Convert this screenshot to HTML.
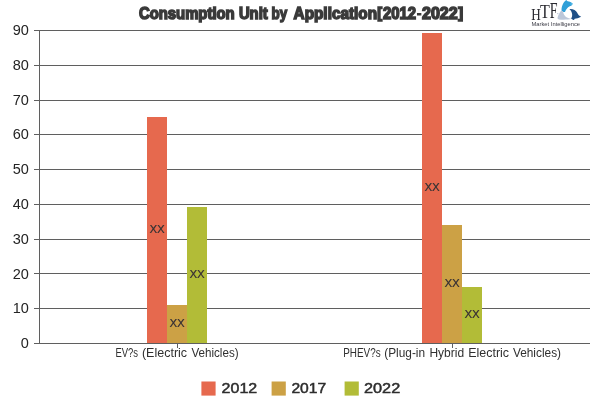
<!DOCTYPE html>
<html><head><meta charset="utf-8">
<style>
html,body{margin:0;padding:0;background:#fff;}
body{width:600px;height:400px;overflow:hidden;position:relative;font-family:"Liberation Sans",sans-serif;}
svg{position:absolute;left:0;top:0;display:block;}
.ax{font-family:"Liberation Sans",sans-serif;font-size:14.5px;fill:#242424;}
.cat{font-family:"Liberation Sans",sans-serif;font-size:12px;fill:#303030;}
.xx{font-family:"DejaVu Sans","Liberation Sans",sans-serif;font-size:14px;letter-spacing:-0.9px;fill:#3d3535;}
.lg{font-family:"Liberation Sans",sans-serif;font-size:14.6px;font-weight:normal;fill:#2e2e2e;stroke:#2e2e2e;stroke-width:0.5px;}
.ttl{font-family:"Liberation Sans",sans-serif;font-size:16px;font-weight:bold;fill:#3a3a3a;stroke:#3a3a3a;stroke-width:1.5px;stroke-linejoin:miter;}
</style></head>
<body>
<svg width="600" height="400" viewBox="0 0 600 400">
<rect width="600" height="400" fill="#fff"/>
<!-- gridlines -->
<g fill="#5f5f5f" shape-rendering="crispEdges">
<rect x="34" y="30" width="556" height="1"/>
<rect x="34" y="65" width="556" height="1"/>
<rect x="34" y="100" width="556" height="1"/>
<rect x="34" y="134" width="556" height="1"/>
<rect x="34" y="169" width="556" height="1"/>
<rect x="34" y="204" width="556" height="1"/>
<rect x="34" y="239" width="556" height="1"/>
<rect x="34" y="273" width="556" height="1"/>
<rect x="34" y="308" width="556" height="1"/>
<rect x="34" y="343" width="556" height="1"/>
<rect x="39" y="30" width="1" height="314"/>
<rect x="177" y="343" width="1" height="5"/>
<rect x="452" y="343" width="1" height="5"/>
</g>
<!-- bars -->
<g shape-rendering="crispEdges">
<rect x="147" y="117" width="20" height="226" fill="#e6694e"/>
<rect x="167" y="305" width="20" height="38" fill="#cca145"/>
<rect x="187" y="207" width="20" height="136" fill="#b2bc37"/>
<rect x="422" y="33" width="20" height="310" fill="#e6694e"/>
<rect x="442" y="225" width="20" height="118" fill="#cca145"/>
<rect x="462" y="287" width="20" height="56" fill="#b2bc37"/>
</g>
<!-- bar labels -->
<g class="xx" text-anchor="middle">
<text x="156.7" y="232.7">xx</text>
<text x="176.7" y="326.6">xx</text>
<text x="196.7" y="277.9">xx</text>
<text x="431.7" y="191.0">xx</text>
<text x="451.7" y="286.6">xx</text>
<text x="471.7" y="317.9">xx</text>
</g>
<!-- y axis labels -->
<g class="ax" text-anchor="end">
<text x="28.8" y="35.1">90</text>
<text x="28.8" y="69.9">80</text>
<text x="28.8" y="104.7">70</text>
<text x="28.8" y="139.4">60</text>
<text x="28.8" y="174.2">50</text>
<text x="28.8" y="209.0">40</text>
<text x="28.8" y="243.8">30</text>
<text x="28.8" y="278.5">20</text>
<text x="28.8" y="313.3">10</text>
<text x="28.8" y="348.1">0</text>
</g>
<!-- category labels -->
<text class="cat" y="356.9"><tspan x="115.4" textLength="22.7" lengthAdjust="spacingAndGlyphs">EV?s</tspan> <tspan x="141.9" textLength="45.2" lengthAdjust="spacingAndGlyphs">(Electric</tspan> <tspan x="191.4" textLength="47.2" lengthAdjust="spacingAndGlyphs">Vehicles)</tspan></text>
<text class="cat" y="356.9"><tspan x="343.2" textLength="37.4" lengthAdjust="spacingAndGlyphs">PHEV?s</tspan> <tspan x="384.2" textLength="40.9" lengthAdjust="spacingAndGlyphs">(Plug-in</tspan> <tspan x="429.4" textLength="34.7" lengthAdjust="spacingAndGlyphs">Hybrid</tspan> <tspan x="468.2" textLength="40.9" lengthAdjust="spacingAndGlyphs">Electric</tspan> <tspan x="512.9" textLength="48.2" lengthAdjust="spacingAndGlyphs">Vehicles)</tspan></text>
<!-- title -->
<text class="ttl" y="18.6" font-size="16"><tspan x="138.9" textLength="95.8" lengthAdjust="spacingAndGlyphs">Consumption</tspan> <tspan x="238.9" textLength="28.8" lengthAdjust="spacingAndGlyphs">Unit</tspan> <tspan x="271.6" textLength="15.6" lengthAdjust="spacingAndGlyphs">by</tspan>  <tspan x="293.6" textLength="83.4" lengthAdjust="spacingAndGlyphs">Application</tspan><tspan x="377.3" y="18" font-size="14.5">[</tspan><tspan x="383" y="18.6" textLength="33" lengthAdjust="spacingAndGlyphs">2012</tspan><tspan x="416.9" y="18.2" font-size="13" stroke-width="1.1">-</tspan><tspan x="422" y="18.6" textLength="35.6" lengthAdjust="spacingAndGlyphs">2022</tspan><tspan x="458.3" y="18" font-size="14.5">]</tspan></text>
<!-- legend -->
<g>
<rect x="201.4" y="381.5" width="14.2" height="14.1" fill="#e6694e"/>
<rect x="271.6" y="381.5" width="14.2" height="14.1" fill="#cca145"/>
<rect x="344.6" y="381.5" width="14.2" height="14.1" fill="#b2bc37"/>
</g>
<g class="lg">
<text x="221.6" y="393.4" textLength="35.6" lengthAdjust="spacingAndGlyphs">2012</text>
<text x="291.4" y="393.4" textLength="34.8" lengthAdjust="spacingAndGlyphs">2017</text>
<text x="364" y="393.4" textLength="36.2" lengthAdjust="spacingAndGlyphs">2022</text>
</g>
<!-- logo -->
<g id="logo">
<text font-family="'Liberation Serif',serif" fill="#2a2a30"><tspan x="531.3" y="19.5" font-size="15.9" textLength="9.5" lengthAdjust="spacingAndGlyphs">H</tspan><tspan x="540" y="18.3" font-size="19.6" textLength="9.8" lengthAdjust="spacingAndGlyphs">T</tspan><tspan x="549.8" y="17.5" font-size="22.6" textLength="7.8" lengthAdjust="spacingAndGlyphs">F</tspan></text>
<path d="M561.6,10.8 C561.2,6.6 563.2,2.4 566.2,0 L567.6,1.2 C569.4,1.2 571.6,2.2 572.8,3.8 L571.6,5.6 C570,6 568.4,7 567.2,8.2 C566.2,9.2 565.4,10.6 565,12 L563.2,12 Z" fill="#2f9fd8"/>
<path d="M569.4,9 C572.8,8.6 576,10.2 577.2,12.8 C578,14.6 579.2,16 581.2,16.8 C578.8,18.2 576.4,18.4 574.8,18.8 L573,19.8 L571,18.6 C572.2,17.2 572.4,15.4 572,13.6 C571.6,11.8 570.8,10.2 569.4,9 Z" fill="#1f4f86"/>
<path d="M561.2,10.6 C559.5,12.8 558.4,15 557.6,17.6 C557.4,18.6 557.8,19.2 558.8,19.4 C563,19.9 568,19.7 571.6,18.8 C569.2,18.6 566.8,17.8 565.2,16.2 C563.9,14.9 563.2,13.2 563.2,11.6 Z" fill="#bcc7d9"/>
<circle cx="571.3" cy="3.9" r="1" fill="#4fb8e6"/>
<circle cx="573.6" cy="19.3" r="0.8" fill="#1f4f86"/>
<circle cx="557.8" cy="13.6" r="0.7" fill="#b4c1d6"/>
<text x="531.5" y="26" font-family="'Liberation Sans',sans-serif" font-size="5.9" fill="#3c3c46" textLength="48.6" lengthAdjust="spacingAndGlyphs">Market Intelligence</text>
</g>
</svg>
</body></html>
